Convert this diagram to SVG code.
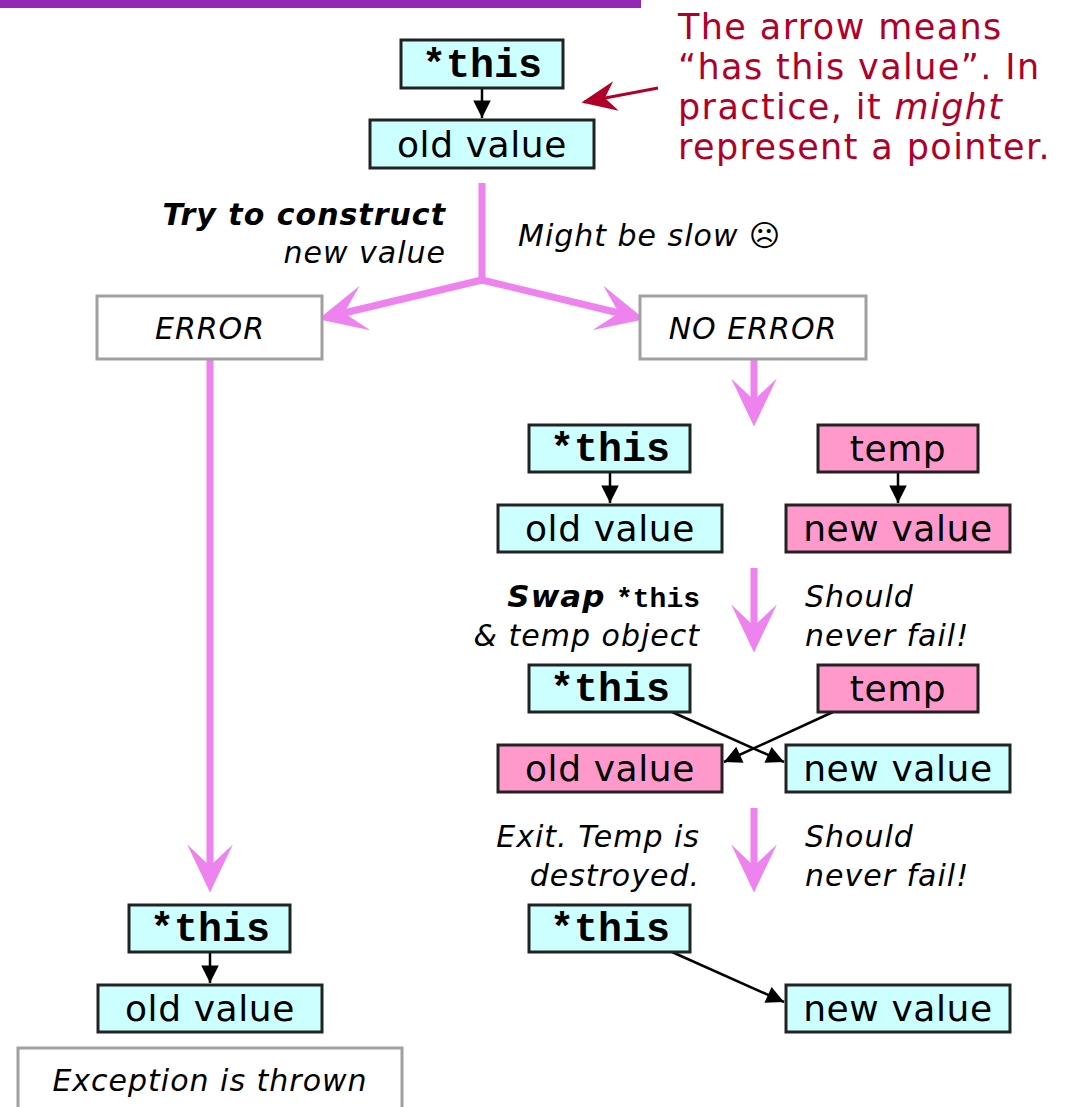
<svg xmlns="http://www.w3.org/2000/svg" width="1066" height="1107" viewBox="0 0 1066 1107">
<style>
.cy{fill:#CCFFFF;stroke:#222;stroke-width:3}
.pk{fill:#FF99CC;stroke:#222;stroke-width:3}
.gb{fill:#fff;stroke:#A0A0A0;stroke-width:3}
.mono{font-family:"Liberation Mono","Courier New",monospace;font-weight:bold;font-size:40px;fill:#000}
.val{font-family:"DejaVu Sans",Verdana,sans-serif;font-size:36px;letter-spacing:0.6px;fill:#000}
.lab{font-family:"DejaVu Sans",Verdana,sans-serif;font-size:30px;font-style:italic;letter-spacing:1px;fill:#000}
.note{font-family:"DejaVu Sans",Verdana,sans-serif;font-size:35px;letter-spacing:1.4px;fill:#B0002A}
.big{fill:none;stroke:#EE82EE;stroke-width:7;marker-end:url(#pa)}
.blk{fill:none;stroke:#000;stroke-width:2.5;marker-end:url(#ba)}
</style>
<defs>
<marker id="pa" markerUnits="userSpaceOnUse" markerWidth="60" markerHeight="60" viewBox="-25 -25 50 50" refX="0" refY="0" orient="auto" overflow="visible">
<path d="M22,0 L-18,-19 L0,0 L-18,19 Z" fill="#EE82EE"/>
</marker>
<marker id="ba" markerUnits="userSpaceOnUse" markerWidth="20" markerHeight="20" viewBox="-16 -8 16 16" refX="0" refY="0" orient="auto" overflow="visible">
<path d="M0,0 L-14,-7 L-14,7 Z" fill="#000"/>
</marker>
<marker id="ra" markerUnits="userSpaceOnUse" markerWidth="40" markerHeight="40" viewBox="-30 -15 32 30" refX="0" refY="0" orient="auto" overflow="visible">
<path d="M2,0 L-26,-12 L-17,0 L-26,12 Z" fill="#B0002A"/>
</marker>
</defs>
<rect x="0" y="0" width="641" height="8" fill="#9527B5"/>

<g id="note">
<text class="note" x="678" y="39">The arrow means</text>
<text class="note" x="678" y="79">“has this value”. In</text>
<text class="note" x="678" y="119">practice, it <tspan font-style="italic">might</tspan></text>
<text class="note" x="678" y="159">represent a pointer.</text>
</g>

<g id="connectors">
<line x1="658" y1="88" x2="584" y2="102" stroke="#B0002A" stroke-width="3" marker-end="url(#ra)"/>
<line class="blk" x1="482" y1="88" x2="482" y2="118"/>
<polyline fill="none" stroke="#EE82EE" stroke-width="7" points="482,183 482,280"/>
<line class="big" x1="482" y1="280" x2="344" y2="313"/>
<line class="big" x1="482" y1="280" x2="619" y2="313"/>
<line class="big" x1="210" y1="359" x2="210" y2="866"/>
<line class="big" x1="754" y1="359" x2="754" y2="400"/>
<line class="big" x1="754" y1="568" x2="754" y2="626"/>
<line class="big" x1="754" y1="808" x2="754" y2="866"/>
<line class="blk" x1="610" y1="472" x2="610" y2="503"/>
<line class="blk" x1="898" y1="472" x2="898" y2="503"/>
<line class="blk" x1="672" y1="712" x2="784" y2="762"/>
<line class="blk" x1="833" y1="712" x2="724" y2="762"/>
<line class="blk" x1="672" y1="952" x2="784" y2="1002"/>
<line class="blk" x1="210" y1="952" x2="210" y2="983"/>
</g>

<g id="top-this"><rect class="cy" x="401" y="40" width="162" height="48"/><text class="mono" x="482" y="77" text-anchor="middle">*this</text></g>
<g id="top-old"><rect class="cy" x="370" y="120" width="224" height="48"/><text class="val" x="482" y="157" text-anchor="middle">old value</text></g>

<g id="lbl-try">
<text class="lab" x="446" y="225" text-anchor="end" font-weight="bold">Try to construct</text>
<text class="lab" x="446" y="263" text-anchor="end">new value</text>
</g>
<g id="lbl-slow"><text class="lab" x="518" y="246">Might be slow ☹</text></g>

<g id="error"><rect class="gb" x="97" y="296" width="225" height="63"/><text class="lab" x="210" y="339" text-anchor="middle">ERROR</text></g>
<g id="noerror"><rect class="gb" x="640" y="296" width="226" height="63"/><text class="lab" x="753" y="339" text-anchor="middle">NO ERROR</text></g>

<g id="this2"><rect class="cy" x="529" y="425" width="161" height="47"/><text class="mono" x="610" y="461" text-anchor="middle">*this</text></g>
<g id="old2"><rect class="cy" x="498" y="505" width="224" height="47"/><text class="val" x="610" y="541" text-anchor="middle">old value</text></g>
<g id="temp2"><rect class="pk" x="818" y="425" width="160" height="47"/><text class="val" x="898" y="461" text-anchor="middle">temp</text></g>
<g id="new2"><rect class="pk" x="786" y="505" width="224" height="47"/><text class="val" x="898" y="541" text-anchor="middle">new value</text></g>

<g id="lbl-swap">
<text class="lab" x="700" y="607" text-anchor="end"><tspan font-weight="bold" style="font-size:31px">Swap</tspan> <tspan class="mono" style="font-size:28px;font-style:normal;letter-spacing:0">*this</tspan></text>
<text class="lab" x="700" y="646" text-anchor="end">&amp; temp object</text>
</g>
<g id="lbl-should1">
<text class="lab" x="805" y="607">Should</text>
<text class="lab" x="805" y="646">never fail!</text>
</g>

<g id="this3"><rect class="cy" x="529" y="665" width="161" height="47"/><text class="mono" x="610" y="701" text-anchor="middle">*this</text></g>
<g id="temp3"><rect class="pk" x="818" y="665" width="160" height="47"/><text class="val" x="898" y="701" text-anchor="middle">temp</text></g>
<g id="old3"><rect class="pk" x="498" y="745" width="224" height="47"/><text class="val" x="610" y="781" text-anchor="middle">old value</text></g>
<g id="new3"><rect class="cy" x="786" y="745" width="224" height="47"/><text class="val" x="898" y="781" text-anchor="middle">new value</text></g>

<g id="lbl-exit">
<text class="lab" x="700" y="847" text-anchor="end">Exit. Temp is</text>
<text class="lab" x="700" y="886" text-anchor="end">destroyed.</text>
</g>
<g id="lbl-should2">
<text class="lab" x="805" y="847">Should</text>
<text class="lab" x="805" y="886">never fail!</text>
</g>

<g id="this4"><rect class="cy" x="529" y="905" width="161" height="47"/><text class="mono" x="610" y="941" text-anchor="middle">*this</text></g>
<g id="new4"><rect class="cy" x="786" y="985" width="224" height="47"/><text class="val" x="898" y="1021" text-anchor="middle">new value</text></g>

<g id="this5"><rect class="cy" x="129" y="905" width="161" height="47"/><text class="mono" x="210" y="941" text-anchor="middle">*this</text></g>
<g id="old5"><rect class="cy" x="98" y="985" width="224" height="47"/><text class="val" x="210" y="1021" text-anchor="middle">old value</text></g>

<g id="exception"><rect class="gb" x="18" y="1048" width="384" height="70"/><text class="lab" x="210" y="1091" text-anchor="middle">Exception is thrown</text></g>
</svg>
